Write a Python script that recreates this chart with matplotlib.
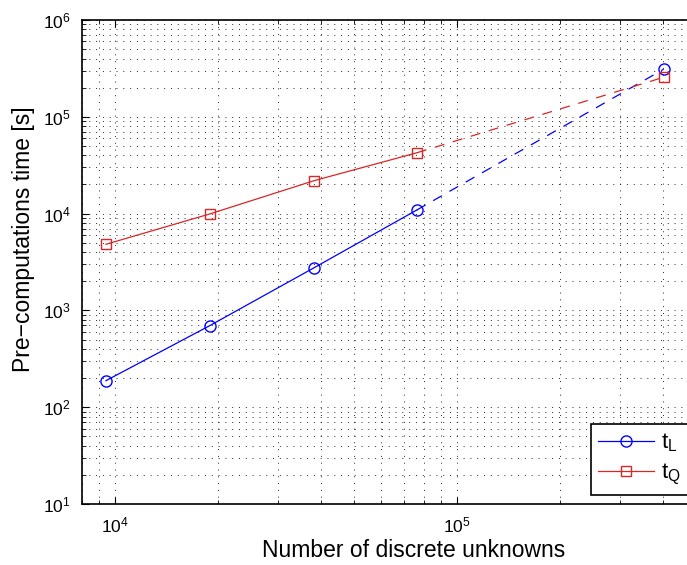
import numpy as np
import matplotlib
matplotlib.use('Agg')
import matplotlib.pyplot as plt
from matplotlib.ticker import LogLocator, NullFormatter

plt.rcParams.update({
    'font.family': ['Liberation Sans', 'DejaVu Sans'],
    'mathtext.default': 'regular',
    'font.size': 12,
})

# number of unknowns and timings
n_unknowns = [9400, 18900, 38200, 76300]
n_extrap = [76300, 402000]
t_L = [188, 695, 2760, 10900]
t_L_extrap = [10900, 310000]
t_Q = [4820, 9910, 21900, 42500]
t_Q_extrap = [42500, 256000]

blue = (0.0, 0.0, 1.0)
red = (0.85, 0.15, 0.15)

fig = plt.figure(figsize=(6.87, 5.65), dpi=100)
ax = fig.add_axes([82/687, 61/565, (696-82)/687, (504-20)/565])

ax.plot(n_unknowns, t_L, '-o', color=blue, lw=0.9, ms=8, mfc='none', mew=1.0, label='$t_L$')
ax.plot(n_unknowns, t_Q, '-s', color=red, lw=0.9, ms=7, mfc='none', mew=1.0, label='$t_Q$')
ax.plot(n_extrap, t_L_extrap, '--', color=blue, lw=0.9, dashes=(8, 7))
ax.plot(n_extrap, t_Q_extrap, '--', color=red, lw=0.9, dashes=(8, 7))
ax.plot(n_extrap[1:], t_L_extrap[1:], 'o', color=blue, ms=8, mfc='none', mew=1.0)
ax.plot(n_extrap[1:], t_Q_extrap[1:], 's', color=red, ms=7, mfc='none', mew=1.0)

ax.set_xscale('log')
ax.set_yscale('log')
ax.set_xlim(8000, 5e5)
ax.set_ylim(1e1, 1e6)

ax.xaxis.set_minor_locator(LogLocator(base=10, subs=np.arange(2, 10), numticks=20))
ax.yaxis.set_minor_locator(LogLocator(base=10, subs=np.arange(2, 10), numticks=20))
ax.xaxis.set_minor_formatter(NullFormatter())
ax.yaxis.set_minor_formatter(NullFormatter())

ax.grid(True, which='both', linestyle=(0, (1, 6)), color='black', lw=0.7, alpha=0.85)
ax.tick_params(which='both', direction='in', top=True, right=True)
ax.tick_params(which='major', length=5, labelsize=12.5, pad=8)
ax.tick_params(which='minor', length=3)
for s in ax.spines.values():
    s.set_linewidth(1.2)

ax.set_xlabel('Number of discrete unknowns', fontsize=16.5, labelpad=3)
ax.set_ylabel('Pre\u2212computations time [s]', fontsize=16.5, labelpad=6)
# labels sit off-centre in the original (figure was cropped)
ax.xaxis.label.set_x((414 - 82) / 614)
ax.yaxis.label.set_y((504 - 239) / 484)

leg = ax.legend(loc='lower right', bbox_to_anchor=(688/687, 70/565), bbox_transform=fig.transFigure,
                fancybox=False, edgecolor='black', framealpha=1, fontsize=16,
                handlelength=2.5, borderpad=0.35, labelspacing=0.35, handletextpad=0.3,
                borderaxespad=0)
leg.get_frame().set_linewidth(1.2)

fig.savefig('out.png', dpi=100)
